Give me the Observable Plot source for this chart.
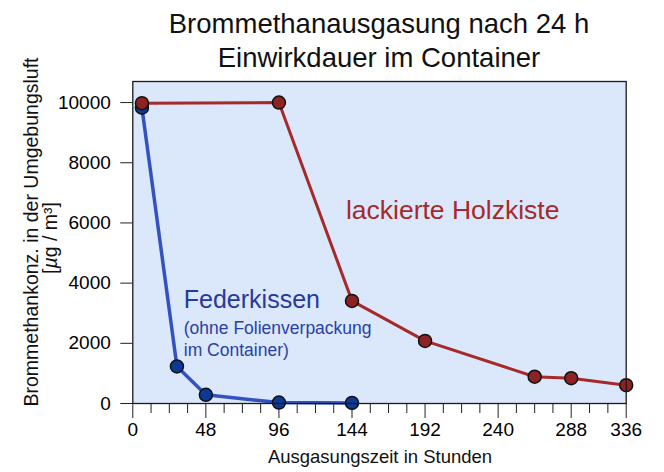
<!DOCTYPE html>
<html><head><meta charset="utf-8">
<script src="https://cdn.jsdelivr.net/npm/d3@7"></script>
<script src="https://cdn.jsdelivr.net/npm/@observablehq/plot@0.6"></script>
<style>body{margin:0;background:#fff}</style>
</head><body><div id="chart"></div>
<script>
// ---- data ----
const titleLines = ["Brommethanausgasung nach 24 h", "Einwirkdauer im Container"];
const yAxisLabel = "Brommethankonz. in der Umgebungsluft";
const xAxisLabel = "Ausgasungszeit in Stunden";

const holzkisteHours  = [6, 96, 144, 192, 264, 288, 336];
const holzkisteValues = [9980, 10000, 3410, 2080, 890, 840, 610];

const federkissenHours  = [6, 29, 48, 96, 144];
const federkissenValues = [9830, 1230, 290, 30, 20];

const yTicks = [0, 2000, 4000, 6000, 8000, 10000];
const xTicks = [0, 48, 96, 144, 192, 240, 288, 336];
const xTickLabels = ["0", "48", "96", "144", "192", "240", "288", "336"];
const xMinorTicks = [12, 24, 36, 60, 72, 84, 108, 120, 132, 156, 168, 180, 204, 216, 228, 252, 264, 276, 304, 320];

const holzLabel = ["lackierte Holzkiste"];
const holzLabelHours = [140];
const holzLabelValues = [6420];

const federLabel = ["Federkissen"];
const federLabelHours = [33.5];
const federLabelValues = [3455];

const federNote = ["(ohne Folienverpackung", "im Container)"];
const federNoteHours = [33.5, 33.5];
const federNoteValues = [2491, 1771];

// ---- build ----
const toRows = (xs, ys) => xs.map((x, i) => ({x, y: ys[i]}));
const holz = toRows(holzkisteHours, holzkisteValues);
const feder = toRows(federkissenHours, federkissenValues);
const txt = (t, xs, ys) => t.map((s, i) => ({text: s, x: xs[i], y: ys[i]}));

const RED_LINE = "#a62a2a", RED_DOT = "#8c2222";
const BLUE_LINE = "#3451c2", BLUE_DOT = "#0c3996";
const FONT = "Liberation Sans, Arial, Helvetica, sans-serif";

const plot = Plot.plot({
  width: 664,
  height: 472,
  marginLeft: 132.3,
  marginRight: 38.3,
  marginTop: 81,
  marginBottom: 69,
  style: {fontFamily: FONT, fontSize: "19px", background: "#fff", overflow: "visible"},
  x: {type: "linear", domain: [0, 288, 336], range: [132.3, 570.7, 625.7]},
  y: {domain: [0, 10700]},
  marks: [
    Plot.frame({fill: "#dbe8fc"}),
    Plot.axisY({ticks: yTicks, tickSize: 12, tickPadding: 10, label: null, fontSize: 19, stroke: "#222",
      tickFormat: d => String(d)}),
    Plot.axisX({ticks: xMinorTicks, tickSize: 10, tickFormat: () => "", label: null, stroke: "#222"}),
    Plot.axisX({ticks: xTicks, tickSize: 15, tickPadding: 4, label: null, fontSize: 19, stroke: "#222",
      tickFormat: d => xTickLabels[xTicks.indexOf(d)]}),
    Plot.line(feder, {x: "x", y: "y", stroke: BLUE_LINE, strokeWidth: 3.5}),
    Plot.dot(feder, {x: "x", y: "y", r: 6.5, fill: BLUE_DOT, stroke: "#111", strokeWidth: 1.5}),
    Plot.line(holz, {x: "x", y: "y", stroke: RED_LINE, strokeWidth: 3}),
    Plot.dot(holz, {x: "x", y: "y", r: 6.5, fill: RED_DOT, stroke: "#111", strokeWidth: 1.5}),
    Plot.text(txt(holzLabel, holzLabelHours, holzLabelValues), {x: "x", y: "y", text: "text",
      textAnchor: "start", fill: RED_LINE, fontSize: 26.5}),
    Plot.text(txt(federLabel, federLabelHours, federLabelValues), {x: "x", y: "y", text: "text",
      textAnchor: "start", fill: "#27399c", fontSize: 25}),
    Plot.text(txt(federNote, federNoteHours, federNoteValues), {x: "x", y: "y", text: "text",
      textAnchor: "start", fill: "#2c3fa3", fontSize: 17.5}),
    Plot.frame({stroke: "#1a1a1a", strokeWidth: 1.3})
  ]
});

const svg = d3.select(plot);
// title
const tg = svg.append("g").attr("font-family", FONT).attr("font-size", 27.5).attr("text-anchor", "middle").attr("fill", "#111");
tg.append("text").attr("x", 379).attr("y", 33.3).text(titleLines[0]);
tg.append("text").attr("x", 379).attr("y", 66.7).text(titleLines[1]);
// y label
const yl = svg.append("g").attr("font-family", FONT).attr("font-size", 19.5).attr("text-anchor", "middle").attr("fill", "#111");
yl.append("text").attr("transform", "translate(38,232) rotate(-90)").text(yAxisLabel);
const unit = yl.append("text").attr("transform", "translate(57,238) rotate(-90)");
unit.append("tspan").text("[");
unit.append("tspan").attr("font-style", "italic").text("µ");
unit.append("tspan").text("g / m³]");
// x label
svg.append("text").attr("font-family", FONT).attr("font-size", 18.5).attr("text-anchor", "middle")
  .attr("fill", "#111").attr("x", 380).attr("y", 463).text(xAxisLabel);

document.getElementById("chart").appendChild(plot);
</script>
</body></html>
